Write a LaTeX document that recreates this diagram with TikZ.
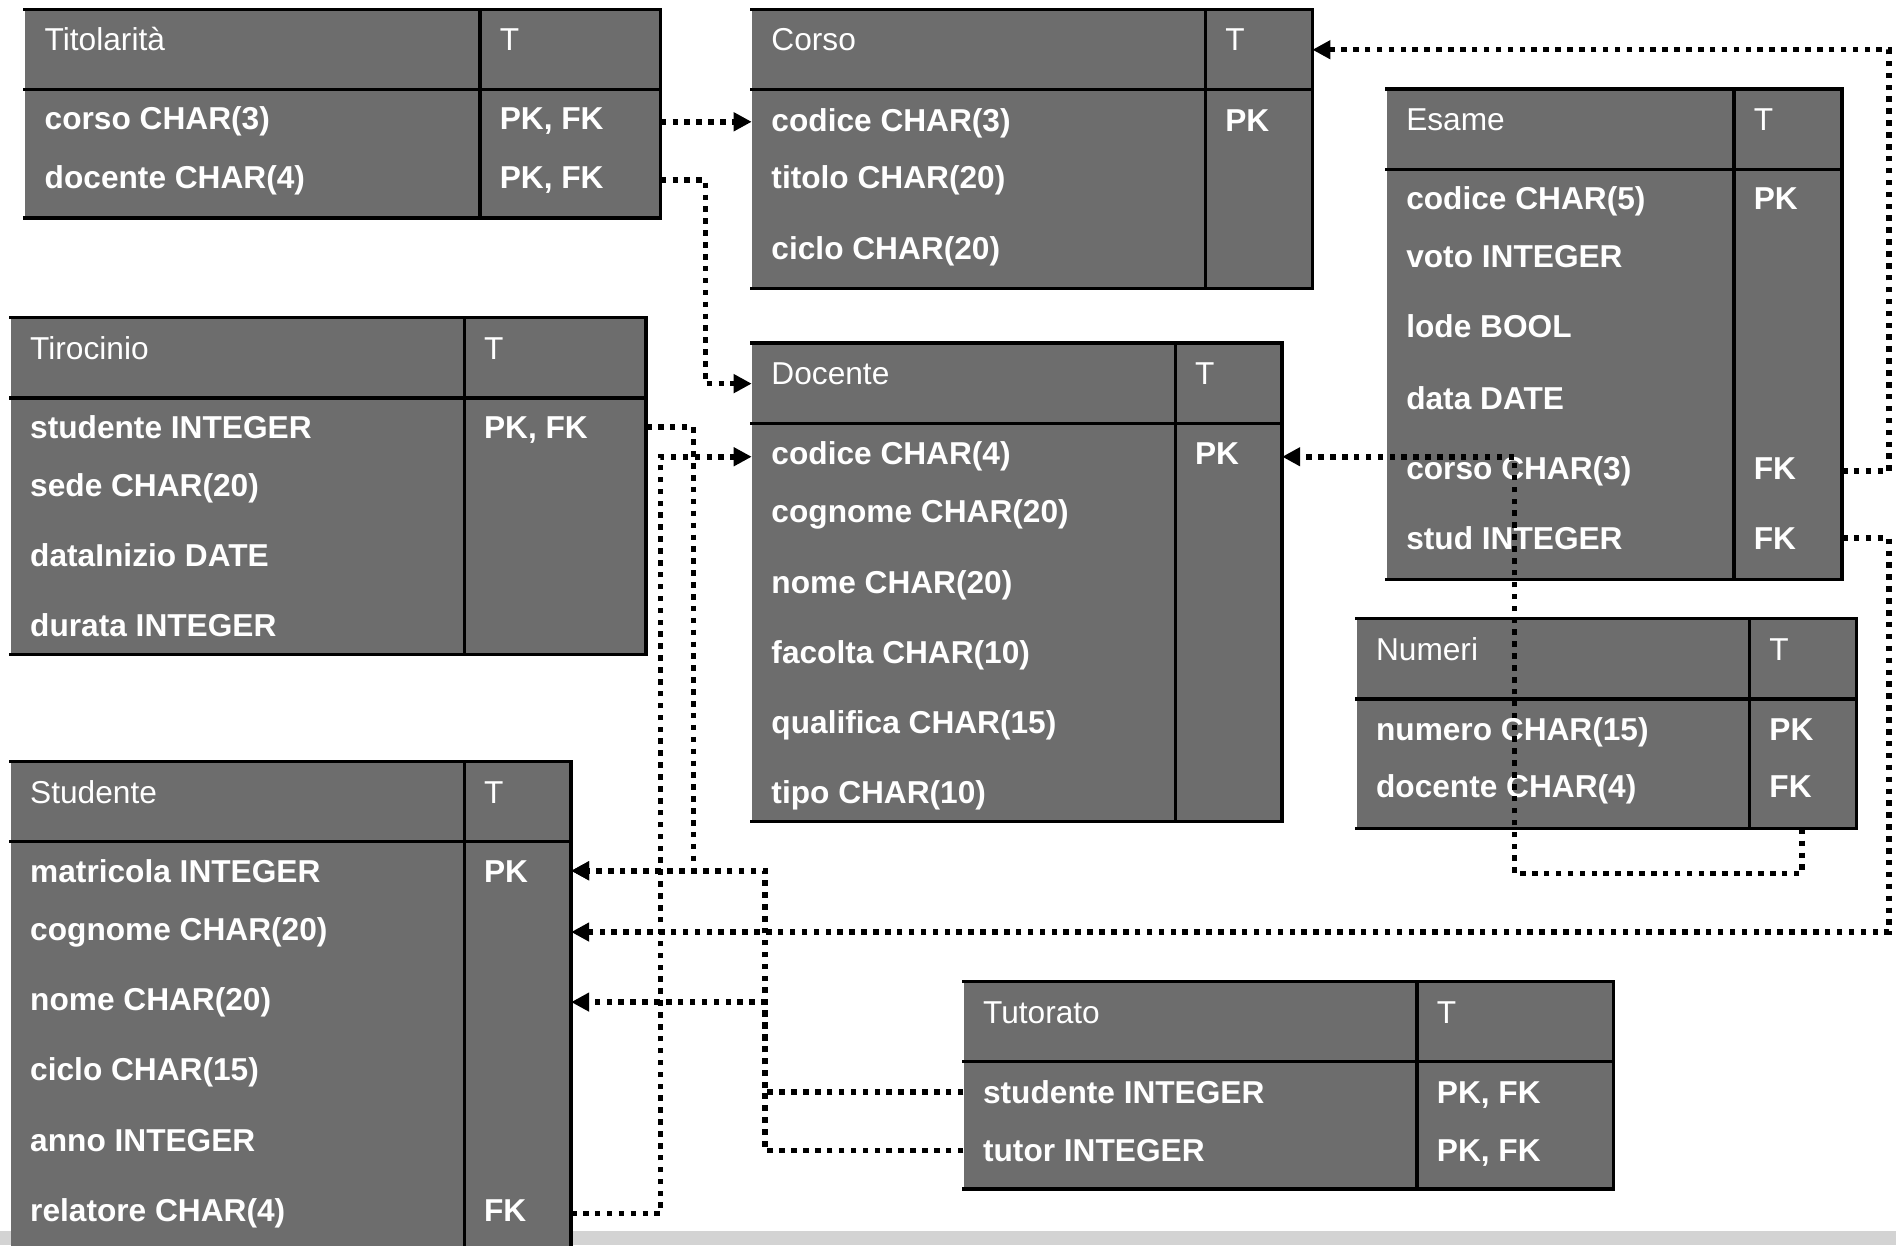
\documentclass[tikz,border=0pt]{standalone}
\usepackage{fontspec}
\setmainfont{Liberation Sans}
\usetikzlibrary{arrows.meta,calc,fit}
\definecolor{tblgray}{RGB}{109,109,109}
\definecolor{bandgray}{RGB}{211,211,211}
\tikzset{
  tbl/.style={fill=tblgray, inner sep=0pt},
  tblline/.style={line width=1.6pt, line cap=rect},
  hdr/.style={anchor=base west, yshift=-0.19cm, inner sep=0pt, text=white, font=\fontsize{14.9}{17}\selectfont},
  fld/.style={hdr, font=\fontsize{14.9}{17}\selectfont\bfseries},
  fkarr/.style={line width=2.6pt, dash pattern=on 2.6pt off 3.0pt, -{Triangle[length=8.5pt,width=8.5pt]}},
}
% #1 name, #2/#3 corners, #4 header rule, #5 key column, #6 title, #7 rows
\newcommand{\ertable}[7]{%
  \node[tbl, fit={#2 #3}] (#1) {};
  \draw[tblline] (#1.north west) -- (#1.north east) -- (#1.south east) -- (#1.south west);
  \draw[tblline] (#1.west |- 0,#4) -- (#1.east |- 0,#4);
  \draw[tblline] (#5,0 |- #1.north) -- (#5,0 |- #1.south);
  \node[hdr] (#1-t) at ($(#1.north west)+(16,25)$) {#6};
  \node[hdr] (#1-tk) at ($(#1.north -| #5,0)+(16,25)$) {T};
  \foreach \i/\yy/\txt/\key in {#7}{
    \node[fld] (#1-\i) at ($(#1.west |- 0,\yy)+(16,0)$) {\txt};
    \node[fld] (#1-k\i) at (#5+16,\yy) {\key};
  }%
}

\begin{document}
\begin{tikzpicture}[x=0.02cm, y=-0.02cm]
  \useasboundingbox (0,0) rectangle (1568,1030);
  \fill[bandgray] (0,1018) rectangle (1568,1030);

  \ertable{tit}{(21,8)}{(546,180)}{74}{397}{Titolarità}{1/98/{corso CHAR(3)}/{PK, FK}, 2/146/{docente CHAR(4)}/{PK, FK}}
  \ertable{cor}{(622,8)}{(1085,238)}{74}{997}{Corso}{1/99/{codice CHAR(3)}/PK, 2/146/{titolo CHAR(20)}/{}, 3/205/{ciclo CHAR(20)}/{}}
  \ertable{esa}{(1147,74)}{(1523,479)}{140}{1434}{Esame}{1/164/{codice CHAR(5)}/PK, 2/212/{voto INTEGER}/{}, 3/270/{lode BOOL}/{}, 4/329/{data DATE}/{}, 5/387/{corso CHAR(3)}/FK, 6/445/{stud INTEGER}/FK}
  \ertable{tir}{(9,263)}{(534,541)}{329}{384}{Tirocinio}{1/353/{studente INTEGER}/{PK, FK}, 2/401/{sede CHAR(20)}/{}, 3/459/{dataInizio DATE}/{}, 4/517/{durata INTEGER}/{}}
  \ertable{doc}{(622,284)}{(1060,679)}{350}{972}{Docente}{1/375/{codice CHAR(4)}/PK, 2/423/{cognome CHAR(20)}/{}, 3/481/{nome CHAR(20)}/{}, 4/539/{facolta CHAR(10)}/{}, 5/597/{qualifica CHAR(15)}/{}, 6/655/{tipo CHAR(10)}/{}}
  \ertable{num}{(1122,512)}{(1535,685)}{578}{1447}{Numeri}{1/603/{numero CHAR(15)}/PK, 2/650/{docente CHAR(4)}/FK}
  \ertable{stu}{(9,630)}{(472,1034)}{696}{384}{Studente}{1/720/{matricola INTEGER}/PK, 2/768/{cognome CHAR(20)}/{}, 3/826/{nome CHAR(20)}/{}, 4/884/{ciclo CHAR(15)}/{}, 5/943/{anno INTEGER}/{}, 6/1001/{relatore CHAR(4)}/FK}
  \ertable{tut}{(797,812)}{(1334,983)}{878}{1172}{Tutorato}{1/903/{studente INTEGER}/{PK, FK}, 2/951/{tutor INTEGER}/{PK, FK}}

  \draw[fkarr] (tit.east |- tit-1) -- (cor.west |- tit-1);
  \draw[fkarr] (tit.east |- tit-2) -- ++(37,0) |- ($(doc.west |- doc-t)+(0,8)$);
  \draw[fkarr] (tir.east |- tir-1) -- ++(39,0) |- (stu.east |- stu-1);
  \draw[fkarr] (stu.east |- stu-6) -- ++(74,0) |- (doc.west |- doc-1);
  \draw[fkarr] (tut.west |- tut-1) -- ++(-164,0) |- (stu.east |- stu-1);
  \draw[fkarr] (tut.west |- tut-2) -- ++(-164,0) |- (stu.east |- stu-3);
  \draw[fkarr] (esa.east |- esa-6) -- ++(39,0) |- (stu.east |- stu-2);
  \draw[fkarr] (esa.east |- esa-5) -- ++(39,0) |- ($(cor.east |- cor-t)+(0,8)$);
  \draw[fkarr] ([xshift=-0.9cm]num.south east) -- ++(0,37) -- ++(-238,0) |- (doc.east |- doc-1);
\end{tikzpicture}
\end{document}
